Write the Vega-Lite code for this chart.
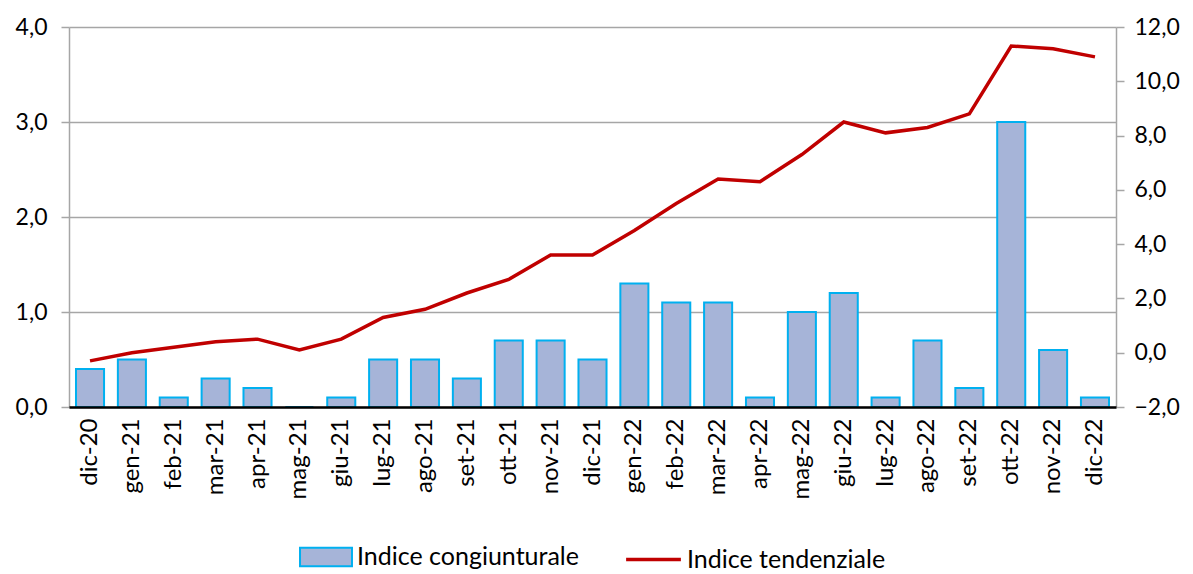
{
  "$schema": "https://vega.github.io/schema/vega-lite/v6.json",
  "autosize": "none",
  "width": 1047,
  "height": 380,
  "padding": {"left": 69, "top": 27, "right": 77, "bottom": 167},
  "background": "white",
  "config": {
    "locale": {"number": {"decimal": ",", "thousands": ".", "grouping": [3], "currency": ["€", ""]}},
    "font": "Lato",
    "view": {"stroke": null},
    "legend": {"layout": {"bottom": {"anchor": "middle", "direction": "horizontal", "margin": 45}}}
  },
  "data": {
    "values": [
      {"mese": "dic-20", "cong": 0.4, "tend": -0.3, "s1": "Indice congiunturale", "s2": "Indice tendenziale"},
      {"mese": "gen-21", "cong": 0.5, "tend": 0.0, "s1": "Indice congiunturale", "s2": "Indice tendenziale"},
      {"mese": "feb-21", "cong": 0.1, "tend": 0.2, "s1": "Indice congiunturale", "s2": "Indice tendenziale"},
      {"mese": "mar-21", "cong": 0.3, "tend": 0.4, "s1": "Indice congiunturale", "s2": "Indice tendenziale"},
      {"mese": "apr-21", "cong": 0.2, "tend": 0.5, "s1": "Indice congiunturale", "s2": "Indice tendenziale"},
      {"mese": "mag-21", "cong": 0.0, "tend": 0.1, "s1": "Indice congiunturale", "s2": "Indice tendenziale"},
      {"mese": "giu-21", "cong": 0.1, "tend": 0.5, "s1": "Indice congiunturale", "s2": "Indice tendenziale"},
      {"mese": "lug-21", "cong": 0.5, "tend": 1.3, "s1": "Indice congiunturale", "s2": "Indice tendenziale"},
      {"mese": "ago-21", "cong": 0.5, "tend": 1.6, "s1": "Indice congiunturale", "s2": "Indice tendenziale"},
      {"mese": "set-21", "cong": 0.3, "tend": 2.2, "s1": "Indice congiunturale", "s2": "Indice tendenziale"},
      {"mese": "ott-21", "cong": 0.7, "tend": 2.7, "s1": "Indice congiunturale", "s2": "Indice tendenziale"},
      {"mese": "nov-21", "cong": 0.7, "tend": 3.6, "s1": "Indice congiunturale", "s2": "Indice tendenziale"},
      {"mese": "dic-21", "cong": 0.5, "tend": 3.6, "s1": "Indice congiunturale", "s2": "Indice tendenziale"},
      {"mese": "gen-22", "cong": 1.3, "tend": 4.5, "s1": "Indice congiunturale", "s2": "Indice tendenziale"},
      {"mese": "feb-22", "cong": 1.1, "tend": 5.5, "s1": "Indice congiunturale", "s2": "Indice tendenziale"},
      {"mese": "mar-22", "cong": 1.1, "tend": 6.4, "s1": "Indice congiunturale", "s2": "Indice tendenziale"},
      {"mese": "apr-22", "cong": 0.1, "tend": 6.3, "s1": "Indice congiunturale", "s2": "Indice tendenziale"},
      {"mese": "mag-22", "cong": 1.0, "tend": 7.3, "s1": "Indice congiunturale", "s2": "Indice tendenziale"},
      {"mese": "giu-22", "cong": 1.2, "tend": 8.5, "s1": "Indice congiunturale", "s2": "Indice tendenziale"},
      {"mese": "lug-22", "cong": 0.1, "tend": 8.1, "s1": "Indice congiunturale", "s2": "Indice tendenziale"},
      {"mese": "ago-22", "cong": 0.7, "tend": 8.3, "s1": "Indice congiunturale", "s2": "Indice tendenziale"},
      {"mese": "set-22", "cong": 0.2, "tend": 8.8, "s1": "Indice congiunturale", "s2": "Indice tendenziale"},
      {"mese": "ott-22", "cong": 3.0, "tend": 11.3, "s1": "Indice congiunturale", "s2": "Indice tendenziale"},
      {"mese": "nov-22", "cong": 0.6, "tend": 11.2, "s1": "Indice congiunturale", "s2": "Indice tendenziale"},
      {"mese": "dic-22", "cong": 0.1, "tend": 10.9, "s1": "Indice congiunturale", "s2": "Indice tendenziale"}
    ]
  },
  "encoding": {
    "x": {
      "field": "mese", "type": "nominal", "sort": null, "title": null,
      "scale": {"paddingInner": 0.33, "paddingOuter": 0.167},
      "axis": {
        "labelAngle": -90, "labelFontSize": 24, "labelColor": "#000000", "labelPadding": 11,
        "ticks": false, "domain": true, "domainColor": "#000000", "domainWidth": 2.5, "zindex": 2
      }
    }
  },
  "layer": [
    {
      "mark": {"type": "bar", "stroke": "#00B0F0", "strokeWidth": 2, "opacity": 1},
      "encoding": {
        "y": {
          "field": "cong", "type": "quantitative", "title": null,
          "scale": {"domain": [0, 4], "nice": false},
          "axis": {
            "values": [0, 1, 2, 3, 4], "format": ".1f", "labelFontSize": 23, "labelColor": "#000000",
            "grid": true, "gridColor": "#A6A6A6", "gridWidth": 1.5, "domainColor": "#A6A6A6", "domainWidth": 1.5,
            "tickColor": "#A6A6A6", "tickSize": 8, "tickWidth": 1.5, "labelPadding": 14
          }
        },
        "fill": {
          "field": "s1", "type": "nominal", "title": null,
          "scale": {"range": ["#A6B4D8"]},
          "legend": {
            "orient": "bottom", "labelFontSize": 25, "labelColor": "#000000", "labelLimit": 400,
            "symbolType": "M-1,-0.36H1V0.36H-1Z", "symbolSize": 2700,
            "symbolStrokeColor": "#00B0F0", "symbolStrokeWidth": 2, "symbolFillColor": "#A6B4D8", "symbolOpacity": 1,
            "labelOffset": 4, "offset": 31
          }
        }
      }
    },
    {
      "mark": {"type": "line", "strokeWidth": 3.5},
      "encoding": {
        "y": {
          "field": "tend", "type": "quantitative", "title": null,
          "scale": {"domain": [-2, 12], "nice": false},
          "axis": {
            "orient": "right", "values": [-2, 0, 2, 4, 6, 8, 10, 12], "format": ".1f",
            "labelFontSize": 23, "labelColor": "#000000", "grid": false,
            "domainColor": "#A6A6A6", "domainWidth": 1.5, "tickColor": "#A6A6A6", "tickSize": 8, "tickWidth": 1.5,
            "labelPadding": 10
          }
        },
        "stroke": {
          "field": "s2", "type": "nominal", "title": null,
          "scale": {"range": ["#C00000"]},
          "legend": {
            "orient": "bottom", "labelFontSize": 25, "labelColor": "#000000", "labelLimit": 400,
            "symbolType": "stroke", "symbolSize": 3000, "symbolStrokeWidth": 3.5, "labelOffset": 4, "offset": 31
          }
        }
      }
    }
  ],
  "resolve": {"scale": {"y": "independent"}}
}
